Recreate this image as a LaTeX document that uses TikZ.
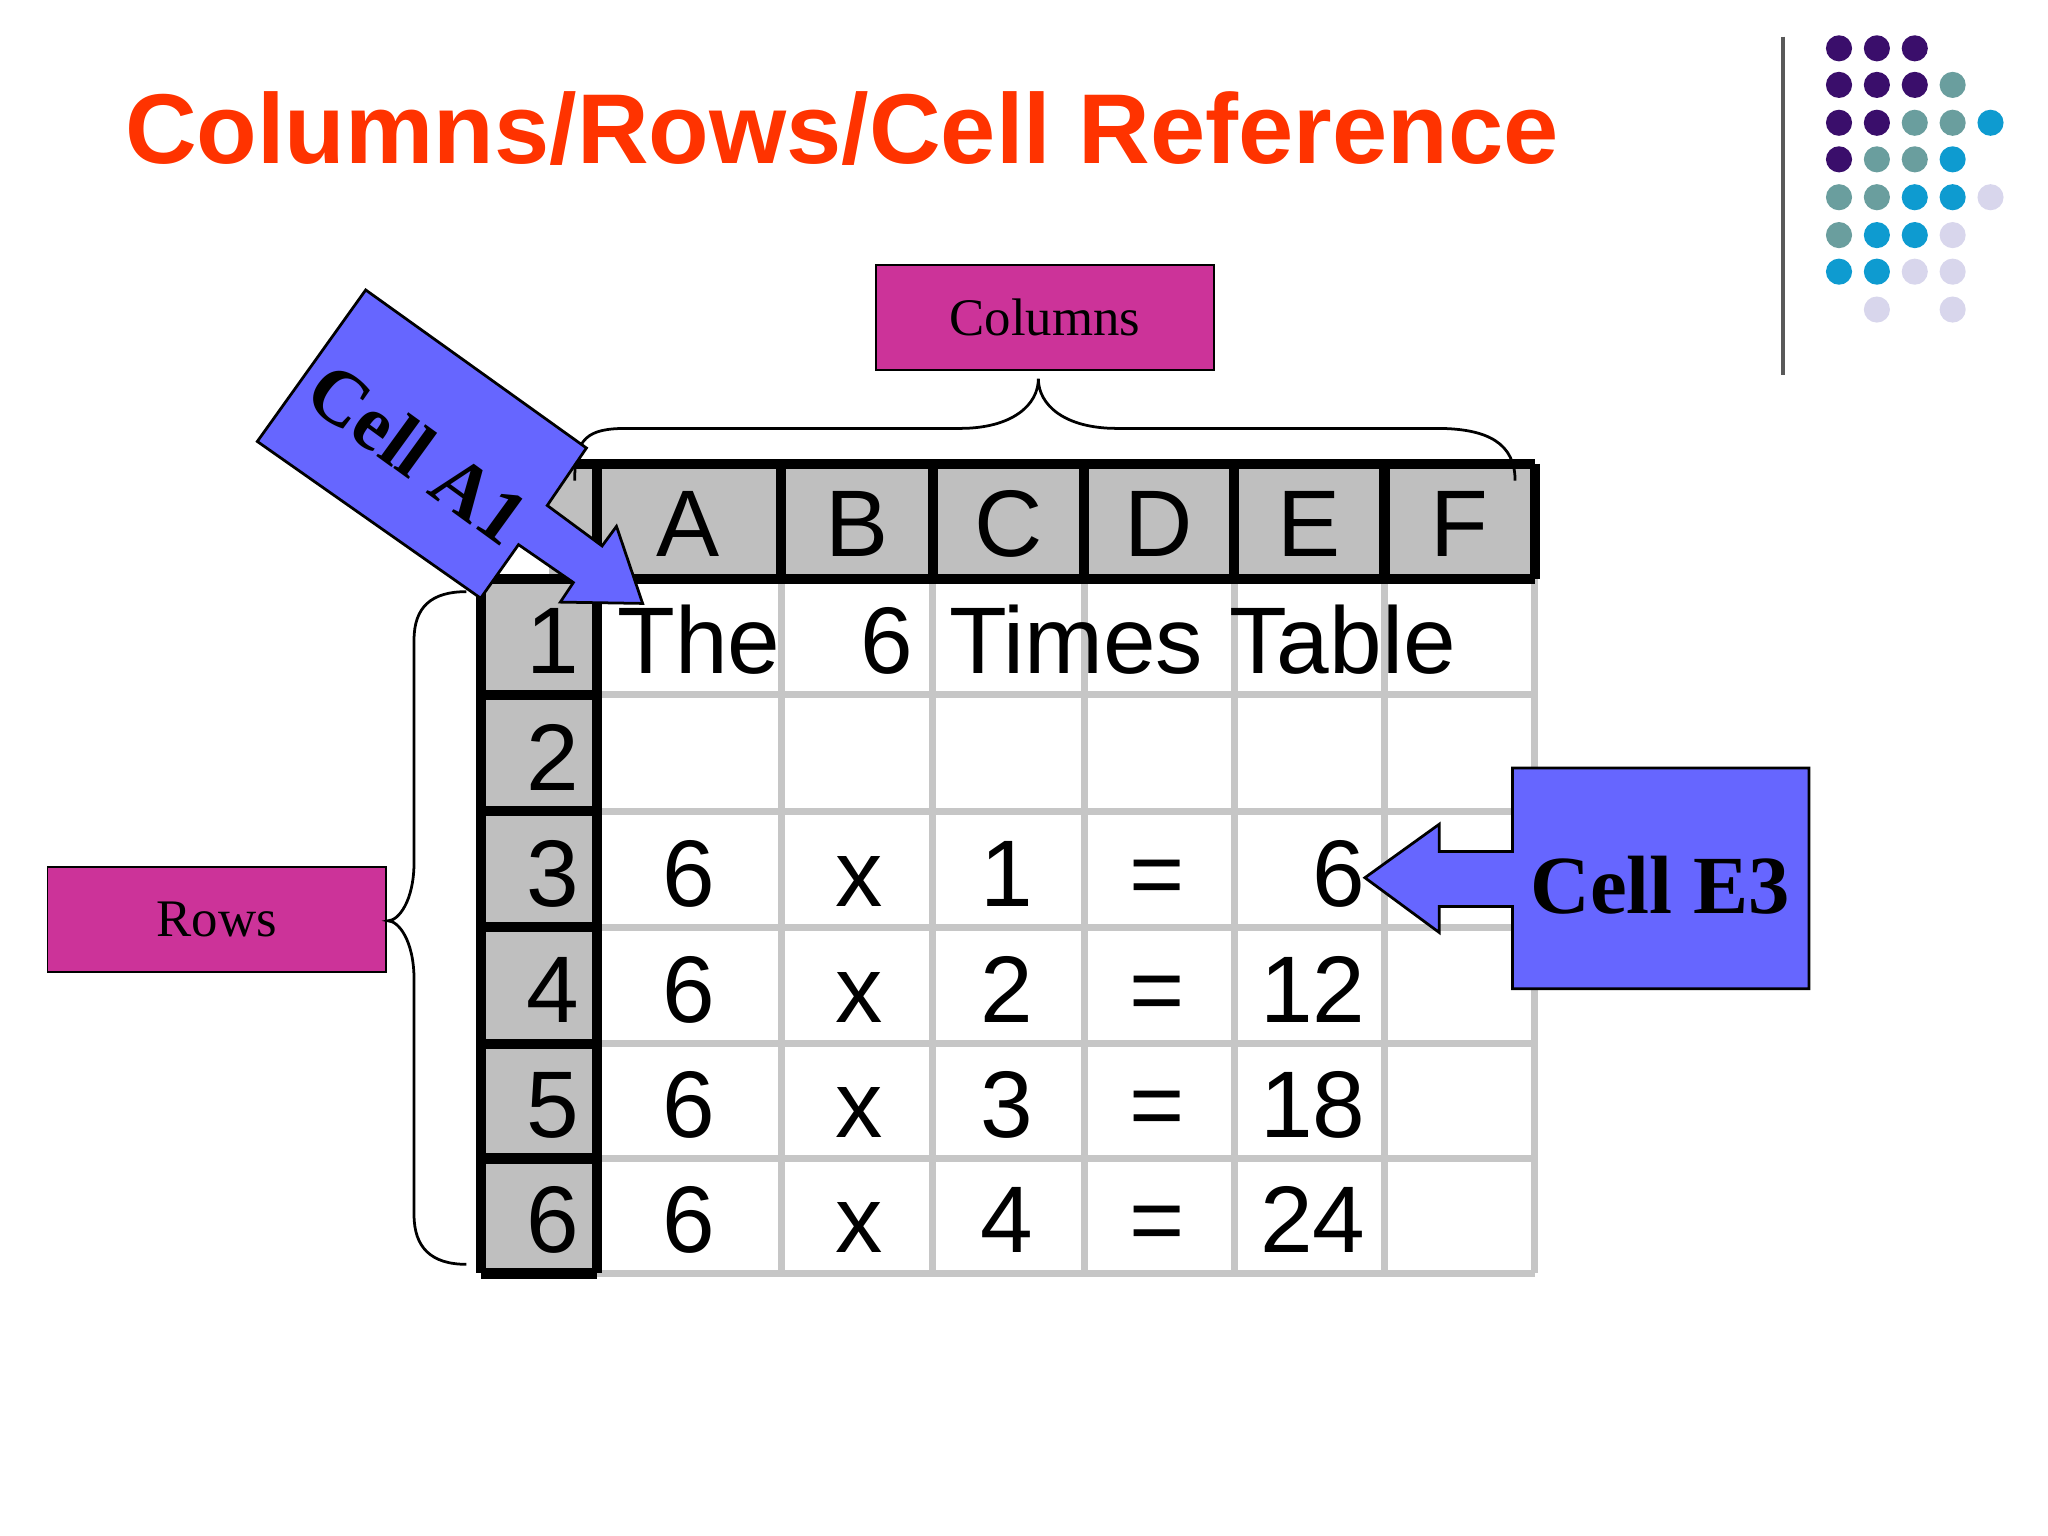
\documentclass[tikz,border=0pt]{standalone}
\usepackage{fontspec}
\setmainfont{Liberation Serif}
\newfontfamily\arial{Liberation Sans}
\begin{document}
\begin{tikzpicture}[x=0.01cm,y=-0.01cm,
  tn/.style={font=\arial\fontsize{20.6}{21}\selectfont,inner sep=0pt,anchor=base},
  lbl/.style={draw=black,fill=magenta1,font=\fontsize{11.5}{12}\selectfont},
  blu/.style={fill=blue1,draw=black,line width=0.6pt},
  br/.style={draw=black,line width=0.6pt}]
\definecolor{magenta1}{HTML}{CC3399}
\definecolor{blue1}{HTML}{6666FF}
\definecolor{dp}{HTML}{3A0E6B}
\definecolor{tl}{HTML}{6A9E9E}
\definecolor{bl}{HTML}{0E9BD0}
\definecolor{lv}{HTML}{D8D6EC}
\definecolor{ttl}{HTML}{FF3300}
\useasboundingbox (0,0) rectangle (1568,1176);
% title
\node[anchor=base west,inner sep=0pt,text=ttl] (title) at (95,125) {\resizebox{10.97cm}{!}{\arial\bfseries\fontsize{22}{22}\selectfont Columns/Rows/Cell Reference}};
% rule and dots
\draw[line width=0.8pt,gray!70!black] (1365,28) coordinate (v1) -- (1365,287) coordinate (v2);
\foreach \c/\x/\y in {dp/1408/37,dp/1437/37,dp/1466/37,
 dp/1408/65,dp/1437/65,dp/1466/65,tl/1495/65,
 dp/1408/94,dp/1437/94,tl/1466/94,tl/1495/94,bl/1524/94,
 dp/1408/122,tl/1437/122,tl/1466/122,bl/1495/122,
 tl/1408/151,tl/1437/151,bl/1466/151,bl/1495/151,lv/1524/151,
 tl/1408/180,bl/1437/180,bl/1466/180,lv/1495/180,
 bl/1408/208,bl/1437/208,lv/1466/208,lv/1495/208,
 lv/1437/237,lv/1495/237}
  \fill[\c] (\x,\y) circle (10);
% table cells
\fill[gray!50] (420,355) rectangle (1175,443);
\fill[gray!50] (368,443) rectangle (457,975);
\foreach \x in {598,714,830,945,1060,1175}
  \draw[gray!45,line width=1.5pt] (\x,443) -- (\x,975);
\foreach \y in {532,621,710,799,887,975}
  \draw[gray!45,line width=1.5pt] (457,\y) -- (1175,\y);
\draw[line width=2.2pt] (420,355) -- (1175,355);
\draw[line width=2.2pt] (368,443) -- (1175,443);
\foreach \x in {457,598,714,830,945,1060,1175}
  \draw[line width=2.2pt] (\x,355) -- (\x,443);
\draw[line width=2.2pt] (368,443) -- (368,975) (457,443) -- (457,975);
\foreach \y in {532,621,710,799,887,975}
  \draw[line width=2.2pt] (368,\y) -- (457,\y);
% headers
\foreach \t/\x in {A/527,B/656,C/772,D/887,E/1002,F/1117}
  \node[tn] (h\t) at (\x,426) {\t};
\foreach \t/\y in {1/516,2/605,3/694,4/783,5/871,6/959}
  \node[tn] (r\t) at (423,\y) {\t};
% row 1
\node[tn,anchor=base west] (the) at (472,516) {The};
\node[tn,anchor=base east] (six) at (700,516) {6};
\node[tn,anchor=base west] (tt) at (726,516) {Times Table};
% rows 3-6
\foreach \n/\r/\y in {1/6/694,2/12/783,3/18/871,4/24/959}{
  \node[tn] at (527,\y) {6};
  \node[tn] at (658,\y) {x};
  \node[tn] at (771,\y) {\n};
  \node[tn] at (886,\y) {=};
  \node[tn,anchor=base east] at (1046,\y) {\r};
}
% Columns label & brace
\node[lbl,minimum width=2.59cm,minimum height=0.8cm] (cols) at (800,243) {Columns};
\draw[br] (440,368) .. controls (440,335) and (450,328) .. (480,328) -- (735,328)
  .. controls (775,328) and (795,310) .. (795,290)
  .. controls (795,310) and (815,328) .. (855,328) -- (1100,328)
  .. controls (1140,328) and (1160,340) .. (1160,368);
% Rows label & brace
\node[lbl,minimum width=2.59cm,minimum height=0.8cm] (rows) at (166,704) {Rows};
\draw[br] (357,453) .. controls (330,453) and (317,465) .. (317,490) -- (317,660)
  .. controls (317,690) and (305,705) .. (297,705)
  .. controls (305,705) and (317,720) .. (317,750) -- (317,930)
  .. controls (317,955) and (330,968) .. (357,968);
% Cell E3 callout
\draw[blu] (1158,588) -- (1385,588) -- (1385,757) -- (1158,757) -- (1158,694)
  -- (1102,694) -- (1102,714) -- (1045,672) -- (1102,631) -- (1102,652) -- (1158,652) -- cycle;
\node[font=\bfseries\fontsize{18}{18}\selectfont] (e3) at (1271,678) {Cell E3};
% Cell A1 callout
\draw[blu] (197,338) -- (280,222) -- (449,343) -- (419,387) -- (461,418) -- (472,403)
  -- (492,462) -- (429,461) -- (439,446) -- (397,417) -- (368,458) -- cycle;
\node[font=\bfseries\fontsize{17}{17}\selectfont,rotate=-36] (a1) at (320,347) {Cell A1};
\end{tikzpicture}
\end{document}
